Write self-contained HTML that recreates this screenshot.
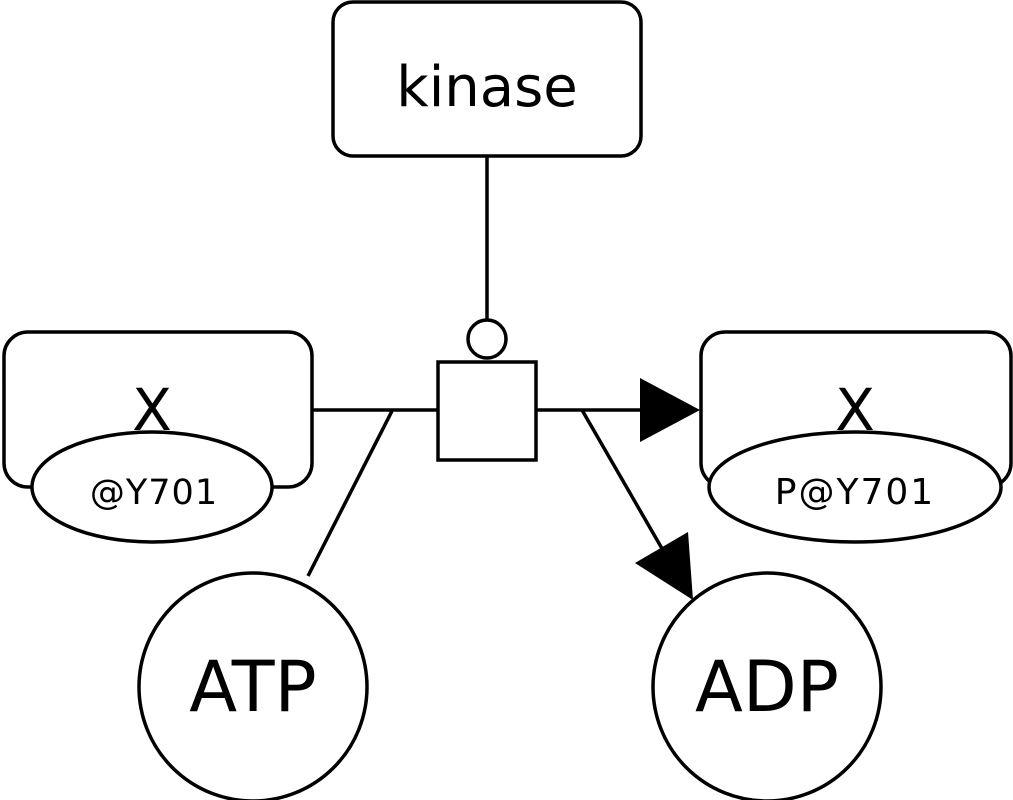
<!DOCTYPE html>
<html><head><meta charset="utf-8"><style>html,body{margin:0;padding:0;background:#fff}svg{display:block}</style></head>
<body>
<svg width="1013" height="800" viewBox="0 0 1013 800" xmlns="http://www.w3.org/2000/svg" font-family="'DejaVu Sans','Liberation Sans',sans-serif">
<g fill="none" stroke="#000" stroke-width="3.5">
<rect x="333" y="2" width="308" height="154" rx="20"/>
<line x1="487" y1="156" x2="487" y2="320"/>
<circle cx="487" cy="339" r="19" fill="#fff"/>
<rect x="438" y="362" width="98" height="98" fill="#fff"/>
<line x1="313" y1="410" x2="438" y2="410"/>
<line x1="392" y1="411" x2="308" y2="576"/>
<line x1="536" y1="410" x2="642" y2="410"/>
<line x1="582" y1="410" x2="664" y2="552"/>
<rect x="4" y="332" width="308" height="155" rx="24"/>
<rect x="701" y="332" width="310" height="155" rx="24"/>
<circle cx="253" cy="687" r="114"/>
<circle cx="767" cy="687" r="114"/>
</g>
<polygon points="640,378 700,410 640,442" fill="#000"/>
<polygon points="635,563 688,532 693,600" fill="#000"/>
<text x="487" y="106" font-size="56" text-anchor="middle">kinase</text>
<text x="152" y="430" font-size="58" text-anchor="middle">X</text>
<text x="855" y="430" font-size="58" text-anchor="middle">X</text>
<ellipse cx="152" cy="487" rx="120" ry="55" fill="#fff" stroke="#000" stroke-width="3.5"/>
<ellipse cx="855" cy="487" rx="146" ry="55" fill="#fff" stroke="#000" stroke-width="3.5"/>
<text x="154" y="504" font-size="35" text-anchor="middle" letter-spacing="1">@Y701</text>
<text x="855" y="504" font-size="36" text-anchor="middle" letter-spacing="2">P@Y701</text>
<text x="253" y="711" font-size="70" text-anchor="middle">ATP</text>
<text x="767" y="711" font-size="70" text-anchor="middle">ADP</text>
</svg>
</body></html>
